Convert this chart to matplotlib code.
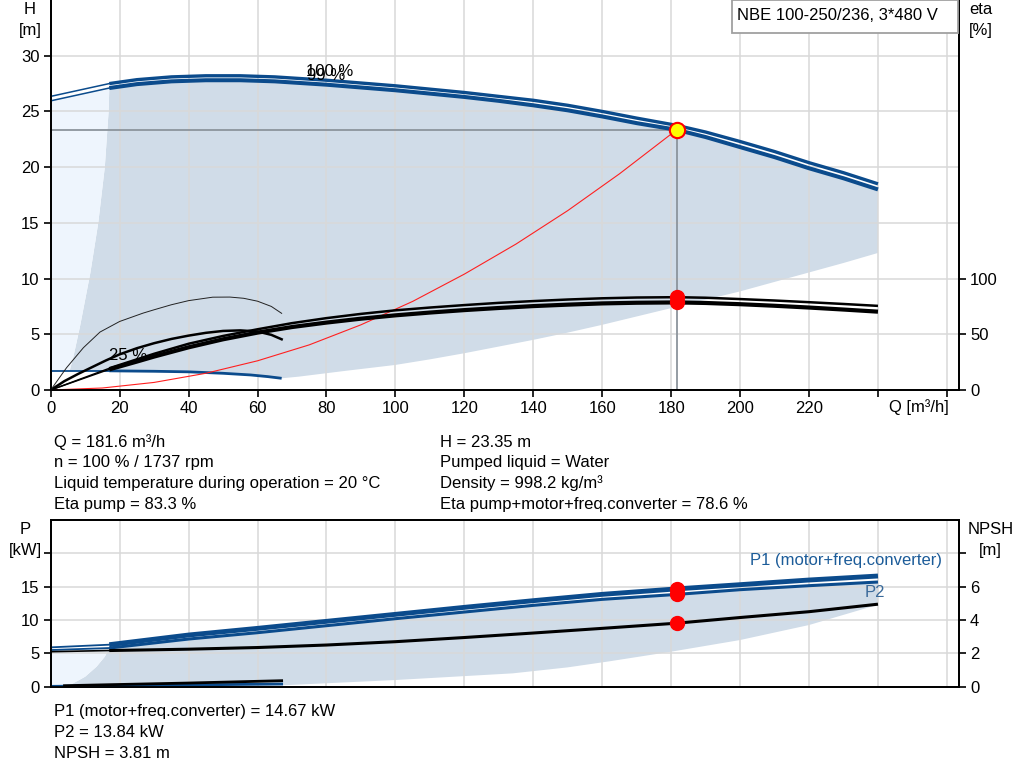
import numpy as np
import matplotlib
matplotlib.use('Agg')
import matplotlib.pyplot as plt
from matplotlib.patches import Rectangle

plt.rcParams['font.family'] = ['Liberation Sans', 'DejaVu Sans']
plt.rcParams['font.size'] = 12

# ---------------- data ----------------
# head curves (Q in m3/h, H in m)
q_main = [0, 17, 25, 35, 45, 55, 65, 80, 90, 100, 110, 120, 130, 140, 150, 160, 170,
          181.6, 190, 200, 210, 220, 230, 240]
h_100 = [26.35, 27.5, 27.85, 28.1, 28.2, 28.2, 28.1, 27.8, 27.55, 27.3, 27.0, 26.7, 26.35,
         26.0, 25.55, 25.0, 24.4, 23.75, 23.15, 22.3, 21.4, 20.4, 19.5, 18.5]
h_99 = [25.95, 27.1, 27.45, 27.7, 27.8, 27.8, 27.7, 27.4, 27.15, 26.9, 26.6, 26.3, 25.95,
        25.55, 25.1, 24.55, 23.95, 23.35, 22.7, 21.8, 20.9, 19.9, 19.0, 18.0]

# head curve at 25 % speed
q_h25 = [0, 17, 30, 40, 50, 58, 63, 67]
h_25 = [1.72, 1.72, 1.68, 1.63, 1.5, 1.35, 1.2, 1.05]

# efficiency curves (%)
q_eta = [0, 17, 25, 30, 40, 50, 60, 70, 80, 90, 100, 110, 120, 130, 140, 150, 160, 170,
         181.6, 190, 200, 210, 220, 230, 240]
eta_pump = [0, 19.5, 27.5, 32.5, 41.5, 48.5, 54.5, 60, 64.5, 68.3, 71.5, 74, 76.2, 78.2,
            79.8, 81.2, 82.3, 83.0, 83.3, 82.8, 81.6, 80.3, 78.8, 77.2, 75.5]
eta_total = [0, 18.5, 25.5, 30, 38.3, 45.5, 51.5, 56.5, 60.5, 64, 67, 69.5, 71.7, 73.6,
             75.3, 76.6, 77.7, 78.3, 78.6, 78.1, 77.0, 75.6, 74.0, 72.2, 70.3]

q_eta25a = [0, 4, 8, 12, 16, 20, 25, 30, 35, 40, 45, 50, 55, 60, 64, 67]
eta25a = [0, 8, 14.5, 20.5, 26.5, 32, 37.5, 42, 45.8, 48.8, 51.3, 53.0, 53.5, 52.5, 49.5, 45.5]
q_eta25b = [0, 4.6, 9.5, 14.3, 20, 26.8, 30, 35, 40, 47, 52, 56, 60, 64, 67]
eta25b = [0, 20, 38, 52, 61.5, 69, 72, 76.5, 80.2, 83.3, 83.4, 82.3, 79.7, 75, 68.8]

# system curve
q_sys = [0, 15, 30, 45, 60, 75, 90, 105, 120, 135, 150, 165, 181.6]
h_sys = [0, 0.18, 0.68, 1.5, 2.62, 4.05, 5.85, 7.95, 10.4, 13.1, 16.1, 19.4, 23.35]

# operating range boundaries (top)
q_low = [67, 72, 85, 100, 110, 120, 130, 140, 150, 160, 170, 180, 190, 200, 210, 220, 230, 240]
h_low = [1.05, 1.2, 1.7, 2.25, 2.75, 3.3, 3.9, 4.5, 5.15, 5.85, 6.6, 7.35, 8.1, 8.85, 9.7,
         10.55, 11.4, 12.3]
q_left = [17, 16.8, 15.7, 13.8, 11.5, 8.5, 6.6, 5.5]
h_left = [27.1, 25, 20, 15, 10.5, 5.7, 3.0, 1.72]

# power / NPSH
q_p = [0, 17, 40, 60, 80, 100, 120, 140, 160, 181.6, 200, 220, 240]
p1 = [5.9, 6.3, 7.75, 8.75, 9.8, 10.85, 11.9, 12.9, 13.85, 14.67, 15.3, 16.0, 16.6]
p2 = [5.5, 5.8, 7.15, 8.1, 9.15, 10.2, 11.2, 12.2, 13.1, 13.84, 14.55, 15.15, 15.7]
npsh = [2.1, 2.17, 2.25, 2.35, 2.5, 2.7, 2.95, 3.22, 3.5, 3.81, 4.15, 4.5, 4.95]

q_p25 = [0, 17, 67]
p_25 = [0.05, 0.15, 0.4]
q_p25b = [4, 17, 40, 67]
p_25b = [0.15, 0.3, 0.55, 0.9]

q_plow = [5, 67, 100, 134, 150, 162, 180, 200, 220, 240]
p_low = [0.05, 0.2, 1.0, 2.0, 2.9, 3.8, 5.25, 7.0, 9.25, 12.3]
q_pleft = [17, 15.7, 13.3, 10, 6.5, 4]
p_left = [5.8, 4.5, 3.0, 1.5, 0.5, 0.05]

q_op, h_op = 181.6, 23.35
eta_op = [83.3, 78.6]
p_op = [14.67, 13.84]
npsh_op = 3.81

x_ticks = list(range(0, 261, 20))
x_labels = [str(v) if v <= 220 else '' for v in x_ticks]

info_left = ['Q = 181.6 m\u00b3/h', 'n = 100 % / 1737 rpm',
             'Liquid temperature during operation = 20 \u00b0C', 'Eta pump = 83.3 %']
info_right = ['H = 23.35 m', 'Pumped liquid = Water', 'Density = 998.2 kg/m\u00b3',
              'Eta pump+motor+freq.converter = 78.6 %']
info_bottom = ['P1 (motor+freq.converter) = 14.67 kW', 'P2 = 13.84 kW', 'NPSH = 3.81 m']

# ---------------- style ----------------
BLUE = '#0b4b8c'
FILL = '#d0dce8'
LIGHT = '#eef5fd'
GRID = '#d9d9d9'
W, H = 1024, 781


def fx(px):
    return px / W


def fy(py):
    return 1 - py / H


fig = plt.figure(figsize=(10.24, 7.81), dpi=100)
x0, x1 = 50.7, 959.0
xmax = (x1 - x0) / 3.447

ax = fig.add_axes([fx(x0), fy(390), (x1 - x0) / W, 390 / H])
ax2 = ax.twinx()
axb = fig.add_axes([fx(x0), fy(686.7), (x1 - x0) / W, (686.7 - 520) / H])
axb2 = axb.twinx()

for a in (ax, axb):
    a.set_xlim(0, xmax)
    a.set_xticks(x_ticks)
    a.grid(True, color=GRID, lw=1.1)
    a.set_axisbelow('line')
ax.set_ylim(0, 35)
ax2.set_ylim(0, 350)
axb.set_ylim(0, 25)
axb2.set_ylim(0, 10)

ax.set_xticklabels(x_labels)
ax.set_yticks(range(0, 31, 5))
ax2.set_yticks([0, 50, 100])
axb.set_xticklabels([])
axb.set_yticks([0, 5, 10, 15, 20])
axb.set_yticklabels(['0', '5', '10', '15', ''])
axb2.set_yticks([0, 2, 4, 6, 8])
axb2.set_yticklabels(['0', '2', '4', '6', ''])

for a in (ax, ax2, axb, axb2):
    a.tick_params(direction='out', length=5, width=1.2, labelsize=12, pad=3)
    for s in a.spines.values():
        s.set_linewidth(1.3)
axb.tick_params(axis='x', length=0)
for a in (ax, ax2):
    a.spines['top'].set_visible(False)

# ---------------- top panel ----------------
top_q = np.concatenate([q_main[1:], q_low[::-1], [58, 50, 40, 30, 17, 5.5], q_left[::-1]])
top_h = np.concatenate([h_99[1:], h_low[::-1], [1.35, 1.5, 1.63, 1.68, 1.72, 1.72], h_left[::-1]])
ax.fill(top_q, top_h, color=FILL, lw=0, zorder=1)
light_q = np.concatenate([[0, 0], q_main[:2], q_left])
light_h = np.concatenate([[1.72, 25.95], h_99[:2], h_left])
ax.fill(light_q, light_h, color=LIGHT, lw=0, zorder=1)

ax.plot([0, q_op], [h_op, h_op], color='#8c949c', lw=1.3, zorder=2)
ax.plot([q_op, q_op], [0, h_op], color='#8c949c', lw=1.3, zorder=2)

ax.plot(q_main[:2], h_100[:2], color=BLUE, lw=1.1, zorder=3)
ax.plot(q_main[1:], h_100[1:], color=BLUE, lw=2.4, zorder=3, solid_capstyle='butt')
ax.plot(q_main[:2], h_99[:2], color=BLUE, lw=1.1, zorder=3)
ax.plot(q_main[1:], h_99[1:], color=BLUE, lw=2.9, zorder=3, solid_capstyle='butt')
ax.plot(q_h25[:2], h_25[:2], color=BLUE, lw=1.3, zorder=3)
ax.plot(q_h25[1:], h_25[1:], color=BLUE, lw=2.0, zorder=3, solid_capstyle='butt')
ax.plot(q_sys, h_sys, color='#ff2020', lw=0.8, zorder=3)
ax.plot(q_op, h_op, 'o', ms=11, mfc='#ffff00', mec='#ff0000', mew=1.5, zorder=10)

ax.text(74, 28.2, '100 %', fontsize=12, va='baseline', zorder=6)
ax.text(74.3, 27.8, '99 %', fontsize=12, va='baseline', zorder=6)
ax.text(17, 2.7, '25 %', fontsize=12, va='baseline', zorder=6)

ax2.plot(q_eta[:2], eta_pump[:2], color='black', lw=1.0)
ax2.plot(q_eta[1:], eta_pump[1:], color='black', lw=1.8, solid_capstyle='butt')
ax2.plot(q_eta[:2], eta_total[:2], color='black', lw=1.0)
ax2.plot(q_eta[1:], eta_total[1:], color='black', lw=3.0, solid_capstyle='butt')
ax2.plot(q_eta25a, eta25a, color='black', lw=1.8)
ax2.plot(q_eta25b, eta25b, color='#222222', lw=0.7)
ax2.plot([q_op, q_op], eta_op, 'o', color='#ff0000', ms=10, zorder=10)

# ---------------- bottom panel ----------------
bq = np.concatenate([q_p[1:], q_plow[::-1], q_pleft[::-1]])
bp = np.concatenate([p2[1:], p_low[::-1], p_left[::-1]])
axb.fill(bq, bp, color=FILL, lw=0, zorder=1)
lq = np.concatenate([[0, 0], q_p[:2], q_pleft])
lp = np.concatenate([[0.05, 5.5], p2[:2], p_left])
axb.fill(lq, lp, color=LIGHT, lw=0, zorder=1)

axb.plot(q_p[:2], p1[:2], color=BLUE, lw=1.3, zorder=3)
axb.plot(q_p[1:], p1[1:], color=BLUE, lw=3.5, zorder=3, solid_capstyle='butt')
axb.plot(q_p[:2], p2[:2], color=BLUE, lw=1.3, zorder=3)
axb.plot(q_p[1:], p2[1:], color=BLUE, lw=2.2, zorder=3, solid_capstyle='butt')
axb.plot(q_p25, p_25, color=BLUE, lw=2.0, zorder=3)
axb.plot(q_p25b, p_25b, color='black', lw=2.0, zorder=3)
axb.plot([q_op, q_op], p_op, 'o', color='#ff0000', ms=10, zorder=10)
axb.text(203, 18.25, 'P1 (motor+freq.converter)', color='#1c5c99', fontsize=12, va='baseline')
axb.text(236, 13.5, 'P2', color='#3a6a9a', fontsize=12, va='baseline')

axb2.plot(q_p[:2], npsh[:2], color='black', lw=1.2)
axb2.plot(q_p[1:], npsh[1:], color='black', lw=2.2, solid_capstyle='butt')
axb2.plot(q_op, npsh_op, 'o', color='#ff0000', ms=10, zorder=10)

# ---------------- texts ----------------
fig.text(fx(30), fy(10), 'H', ha='center', va='center')
fig.text(fx(30), fy(30), '[m]', ha='center', va='center')
fig.text(fx(981), fy(10), 'eta', ha='center', va='center')
fig.text(fx(981), fy(30), '[%]', ha='center', va='center')
fig.text(fx(25), fy(529), 'P', ha='center', va='center')
fig.text(fx(25), fy(550), '[kW]', ha='center', va='center')
fig.text(fx(990.5), fy(529), 'NPSH', ha='center', va='center')
fig.text(fx(990), fy(550), '[m]', ha='center', va='center')
fig.text(fx(918.5), fy(407), 'Q [m\u00b3/h]', ha='center', va='center')

fig.patches.append(Rectangle((fx(731.7), fy(33)), (958 - 731.7) / W, 33 / H,
                             transform=fig.transFigure, fc='white', ec='#a0a0a0',
                             lw=1.3, zorder=5))
fig.text(fx(737), fy(15), 'NBE 100-250/236, 3*480 V', ha='left', va='center', zorder=6)

for i, s in enumerate(info_left):
    fig.text(fx(54.3), fy(446.7 + 20.6 * i), s, ha='left', va='baseline')
for i, s in enumerate(info_right):
    fig.text(fx(440), fy(446.7 + 20.6 * i), s, ha='left', va='baseline')
for i, s in enumerate(info_bottom):
    fig.text(fx(54.3), fy(715.7 + 21.3 * i), s, ha='left', va='baseline')

fig.savefig('out.png', dpi=100)
